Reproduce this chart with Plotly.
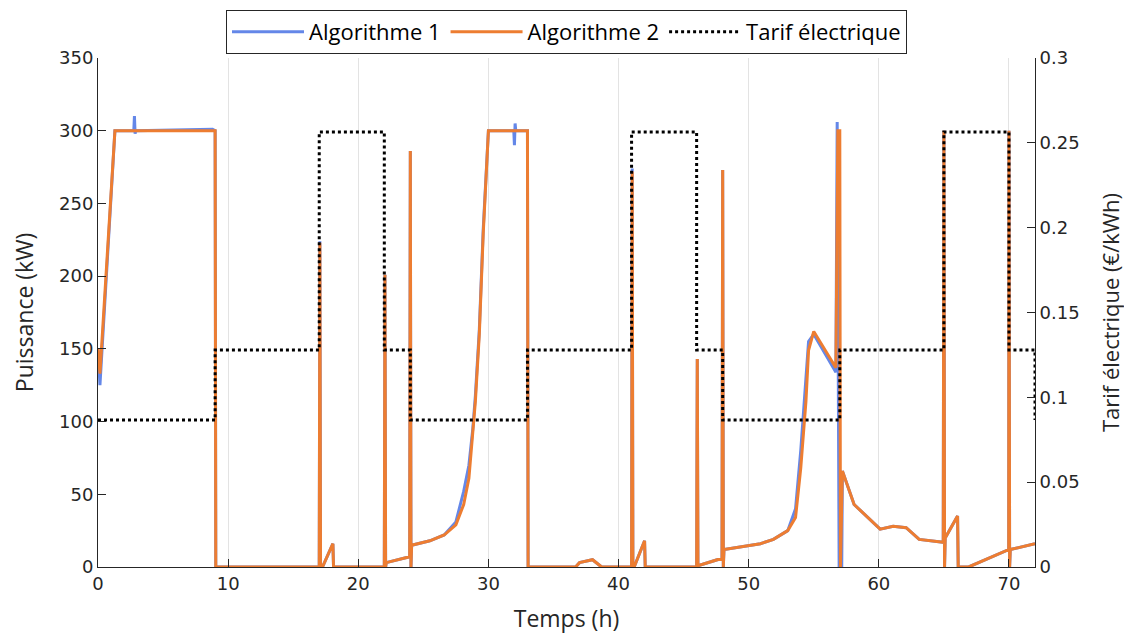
import plotly.graph_objects as go

# ---- Data ----
# Algorithme 2 (orange)
t_algo2 = [0, 0.15, 1.3, 9.0, 9.05,
           17.0, 17.05, 17.1, 17.25, 18.05, 18.1,
           22.0, 22.05, 22.1, 22.15, 23.95, 24.0, 24.05, 24.1, 25.5, 26.6, 27.5, 28.1, 28.5, 28.8, 29.0, 29.3, 29.6, 30.0, 33.0, 33.05,
           36.7, 37.0, 38.0, 38.7,
           41.0, 41.05, 41.1, 41.2, 42.0, 42.05,
           46.0, 46.05, 46.1, 46.15, 47.95, 48.0, 48.05, 48.1, 50.9, 51.9, 53.0, 53.6, 54.0, 54.4, 54.6, 55.0,
           56.7, 56.85, 57.0, 57.05, 57.2, 58.1, 60.1, 61.1, 62.1, 63.1, 64.95,
           65.0, 65.05, 65.1, 66.05, 66.1, 66.9, 69.98, 70.0, 70.05, 70.1, 72.0]
p_algo2 = [150, 133, 300, 300, 0,
           0, 223, 0, 0, 16, 0,
           0, 201, 0, 3, 7, 286, 0, 15, 18, 22, 29, 43, 61, 91, 114, 160, 229, 300, 300, 0,
           0, 3, 5, 0,
           0, 272, 0, 0, 18, 0,
           0, 143, 0, 1, 6, 273, 0, 12, 16, 19, 25, 34, 68, 114, 149, 162,
           137, 300, 300, 0, 66, 43, 26, 28, 27, 19, 17,
           300, 0, 20, 35, 0, 0, 12, 300, 0, 12, 16]

# Algorithme 1 (blue)
t_algo1 = [0, 0.15, 1.3, 2.75, 2.8, 2.85, 2.9, 8.8, 9.0, 9.05,
           17.0, 17.05, 17.1, 17.25, 18.05, 18.1,
           22.0, 22.05, 22.1, 22.15, 23.95, 24.0, 24.05, 24.1, 25.5, 26.6, 27.5, 28.1, 28.5, 28.8, 29.0, 29.3, 29.6, 30.0,
           31.95, 32.0, 32.05, 32.1, 33.0, 33.05,
           36.7, 37.0, 38.0, 38.7,
           41.0, 41.05, 41.1, 41.2, 42.0, 42.05,
           46.0, 46.05, 46.1, 46.15, 47.95, 48.0, 48.05, 48.1, 50.9, 51.9, 53.0, 53.6, 54.0, 54.4, 54.6, 55.0,
           56.7, 56.8, 56.95, 57.15, 57.2, 58.1, 60.1, 61.1, 62.1, 63.1, 64.95,
           65.0, 65.05, 65.1, 66.05, 66.1, 66.9, 69.98, 70.0, 70.05, 70.1, 72.0]
p_algo1 = [150, 125, 300, 300, 310, 298, 300, 301, 300, 0,
           0, 224, 0, 0, 16, 0,
           0, 201, 0, 3, 7, 286, 0, 15, 18, 22, 31, 52, 70, 95, 118, 163, 232, 300,
           300, 290, 305, 300, 300, 0,
           0, 3, 5, 0,
           0, 274, 0, 0, 18, 0,
           0, 143, 0, 1, 6, 273, 0, 12, 16, 19, 25, 40, 80, 130, 155, 160,
           134, 306, 0, 0, 66, 43, 26, 28, 27, 19, 17,
           300, 0, 20, 35, 0, 0, 12, 300, 0, 12, 16]

# Tarif électrique (€/kWh), step changes
t_tarif = [0, 9, 17, 22, 24, 33, 41, 46, 48, 57, 65, 70, 72]
v_tarif = [0.0866, 0.1279, 0.2564, 0.1279, 0.0866, 0.1279, 0.2564, 0.1279,
           0.0866, 0.1279, 0.2564, 0.1279, 0.0866]

x_ticks = [0, 10, 20, 30, 40, 50, 60, 70]
y_ticks = [0, 50, 100, 150, 200, 250, 300, 350]
y2_ticks = [0, 0.05, 0.1, 0.15, 0.2, 0.25, 0.3]
y2_labels = ["0", "0.05", "0.1", "0.15", "0.2", "0.25", "0.3"]

BLUE = "#6487e8"
ORANGE = "#ED7D31"
AX = "#262626"
LABEL_FONT = "Open Sans"
TICK_FONT = "DejaVu Sans"

fig = go.Figure()
fig.add_trace(go.Scatter(x=t_algo1, y=p_algo1, mode="lines", name="Algorithme 1",
                         line=dict(color=BLUE, width=3)))
fig.add_trace(go.Scatter(x=t_algo2, y=p_algo2, mode="lines", name="Algorithme 2",
                         line=dict(color=ORANGE, width=3)))
fig.add_trace(go.Scatter(x=t_tarif, y=v_tarif, mode="lines", name="Tarif électrique",
                         line=dict(color="black", width=3, dash="dot", shape="hv"),
                         yaxis="y2"))

fig.update_layout(
    width=1132, height=635,
    margin=dict(l=90, r=105, t=50, b=76, autoexpand=False),
    paper_bgcolor="white", plot_bgcolor="white",
    showlegend=True,
    legend=dict(orientation="h", x=0.5, xanchor="center", y=1.008, yanchor="bottom",
                bgcolor="white", bordercolor=AX, borderwidth=1,
                font=dict(family=LABEL_FONT, size=22, color="black"),
                itemwidth=72, tracegroupgap=0),
    xaxis=dict(range=[0, 72], tickvals=x_ticks, ticks="inside", ticklen=8,
               tickcolor=AX, showline=True, linecolor=AX, linewidth=1,
               showgrid=True, gridcolor="#e3e3e3", gridwidth=1, zeroline=False,
               tickfont=dict(family=TICK_FONT, size=18, color=AX),
               title=dict(text="Temps (h)", font=dict(family=LABEL_FONT, size=23, color=AX), standoff=18)),
    yaxis=dict(range=[0, 350], tickvals=y_ticks, ticks="inside", ticklen=8,
               tickcolor=AX, showline=True, linecolor=AX, linewidth=1,
               showgrid=False, zeroline=False,
               tickfont=dict(family=TICK_FONT, size=18, color=AX),
               title=dict(text="Puissance (kW)", font=dict(family=LABEL_FONT, size=23, color=AX), standoff=20)),
    yaxis2=dict(range=[0, 0.3], tickvals=y2_ticks, ticktext=y2_labels, overlaying="y", side="right",
                ticks="inside", ticklen=8, tickcolor=AX, showline=True, linecolor=AX, linewidth=1,
                showgrid=False, zeroline=False,
                tickfont=dict(family=TICK_FONT, size=18, color=AX),
                title=dict(text="Tarif électrique (€/kWh)", font=dict(family=LABEL_FONT, size=22, color=AX), standoff=24)),
)

fig.write_html("out.html")
